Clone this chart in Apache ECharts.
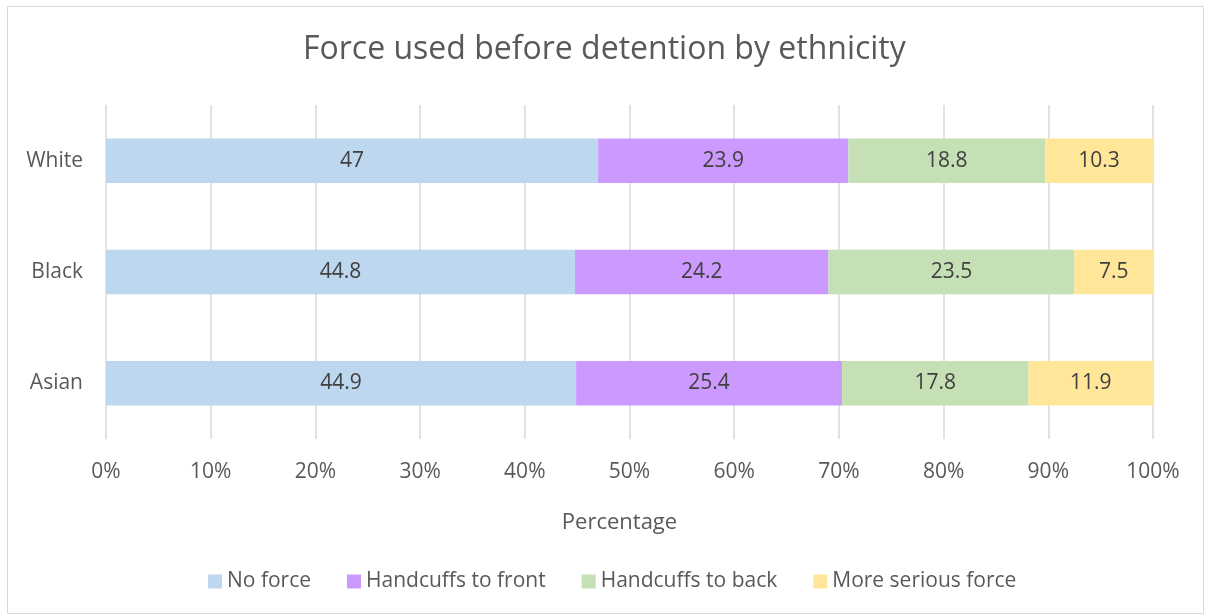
<!DOCTYPE html>
<html><head><meta charset="utf-8">
<script src="https://cdn.jsdelivr.net/npm/echarts@6/dist/echarts.min.js"></script>
<style>html,body{margin:0;padding:0;background:#fff}#c{width:1205px;height:615px}</style>
</head><body><div id="c"></div>
<script>
const categories = ['Asian', 'Black', 'White'];
const noForce = [44.9, 44.8, 47];
const cuffsFront = [25.4, 24.2, 23.9];
const cuffsBack = [17.8, 23.5, 18.8];
const seriousForce = [11.9, 7.5, 10.3];
const seriesNames = ['No force', 'Handcuffs to front', 'Handcuffs to back', 'More serious force'];
const colors = ['#BDD7EE', '#CC99FF', '#C5E0B4', '#FFE699'];
const xTicks = [0, 10, 20, 30, 40, 50, 60, 70, 80, 90, 100];

const font = 'Open Sans';
const chart = echarts.init(document.getElementById('c'));
const mk = (name, data, i) => ({
  name, type: 'bar', stack: 'total', data, barWidth: '40%',
  itemStyle: { color: colors[i] },
  label: { show: true, position: 'inside', color: '#404040', fontFamily: font, fontSize: 21 },
  emphasis: { disabled: true }
});
chart.setOption({
  animation: false,
  textStyle: { fontFamily: font },
  title: { text: 'Force used before detention by ethnicity', left: 298, top: 29,
    textStyle: { fontFamily: font, fontSize: 32, fontWeight: 'normal', color: '#595959' } },
  graphic: [{ type: 'rect', shape: { x: 7.5, y: 6.5, width: 1196, height: 607 },
    style: { fill: 'none', stroke: '#D9D9D9', lineWidth: 1 }, silent: true }],
  legend: { bottom: 18, left: 203, itemWidth: 14, itemHeight: 14, itemGap: 36,
    icon: 'rect', textStyle: { fontFamily: font, fontSize: 21, color: '#595959' },
    data: seriesNames },
  grid: { left: 106, right: 52, top: 105, bottom: 176, containLabel: false },
  xAxis: { type: 'value', min: 0, max: 100, interval: 10,
    name: 'Percentage', nameLocation: 'middle', nameGap: 73,
    nameTextStyle: { fontFamily: font, fontSize: 22, color: '#595959', padding: [0, 20, 0, 0] },
    axisLabel: { formatter: v => xTicks.includes(v) ? v + '%' : '', fontFamily: font, fontSize: 21, color: '#595959', margin: 23 },
    axisLine: { show: false }, axisTick: { show: false },
    splitLine: { show: true, lineStyle: { color: '#D9D9D9', width: 1.5 } } },
  yAxis: { type: 'category', data: categories,
    axisLabel: { fontFamily: font, fontSize: 21, color: '#595959', margin: 23 },
    axisLine: { show: false }, axisTick: { show: false } },
  series: [mk(seriesNames[0], noForce, 0), mk(seriesNames[1], cuffsFront, 1),
           mk(seriesNames[2], cuffsBack, 2), mk(seriesNames[3], seriousForce, 3)]
});
</script></body></html>
